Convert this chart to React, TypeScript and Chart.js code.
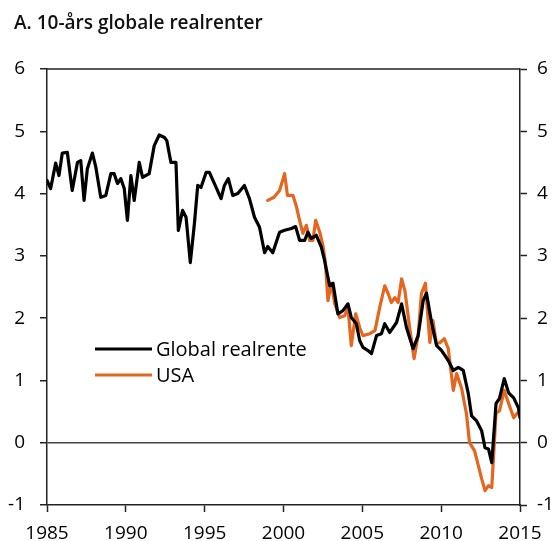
import React, { useEffect, useRef } from "react";
import { Chart, registerables } from "chart.js";
Chart.register(...registerables);

const TITLE = "A. 10-års globale realrenter";
const seriesLabels = ["Global realrente", "USA"];

const globalYears = [
  1985.0, 1985.23, 1985.55, 1985.76, 1985.97, 1986.29, 1986.6, 1986.93, 1987.14, 1987.35,
  1987.56, 1987.88, 1988.1, 1988.41, 1988.73, 1989.05, 1989.26, 1989.47, 1989.68, 1989.9,
  1990.1, 1990.32, 1990.53, 1990.85, 1991.06, 1991.48, 1991.8, 1992.12, 1992.45, 1992.6,
  1992.86, 1993.18, 1993.33, 1993.6, 1993.82, 1994.09, 1994.35, 1994.56, 1994.77, 1995.09,
  1995.3, 1995.62, 1996.04, 1996.25, 1996.5, 1996.78, 1997.1, 1997.52, 1997.84, 1998.16,
  1998.48, 1998.8, 1999.0, 1999.32, 1999.75, 2000.07, 2000.5, 2000.77, 2001.02, 2001.34,
  2001.55, 2001.76, 2002.08, 2002.4, 2002.6, 2002.93, 2003.14, 2003.45, 2003.77, 2004.09,
  2004.3, 2004.62, 2004.83, 2005.04, 2005.36, 2005.58, 2005.9, 2006.21, 2006.42, 2006.74,
  2007.17, 2007.49, 2007.8, 2008.22, 2008.54, 2008.86, 2009.07, 2009.39, 2009.71, 2010.03,
  2010.45, 2010.77, 2011.09, 2011.4, 2011.72, 2011.93, 2012.25, 2012.57, 2012.78, 2013.0,
  2013.21, 2013.48, 2013.7, 2014.0, 2014.28, 2014.6, 2014.9, 2015.0,
];
const globalValues = [
  4.21, 4.08, 4.49, 4.29, 4.65, 4.66, 4.05, 4.5, 4.53, 3.89,
  4.4, 4.65, 4.42, 3.94, 3.97, 4.32, 4.32, 4.16, 4.24, 4.08,
  3.57, 4.29, 3.89, 4.5, 4.26, 4.32, 4.77, 4.94, 4.9, 4.85,
  4.5, 4.5, 3.41, 3.73, 3.62, 2.89, 3.52, 4.13, 4.1, 4.34,
  4.34, 4.16, 3.92, 4.13, 4.24, 3.97, 4.0, 4.13, 3.92, 3.62,
  3.46, 3.05, 3.15, 3.05, 3.38, 3.41, 3.44, 3.47, 3.25, 3.25,
  3.38, 3.28, 3.33, 3.14, 2.93, 2.52, 2.56, 2.07, 2.12, 2.23,
  2.01, 1.91, 1.64, 1.53, 1.48, 1.43, 1.72, 1.75, 1.91, 1.77,
  1.93, 2.23, 1.85, 1.51, 1.72, 2.28, 2.4, 1.93, 1.56, 1.48,
  1.32, 1.16, 1.21, 1.16, 0.79, 0.43, 0.35, 0.19, -0.08, -0.1,
  -0.32, 0.63, 0.71, 1.03, 0.8, 0.72, 0.56, 0.4,
];

const usaYears = [
  1999.0, 1999.4, 1999.75, 2000.07, 2000.25, 2000.6, 2000.8, 2001.02, 2001.23, 2001.45,
  2001.66, 2001.87, 2002.04, 2002.3, 2002.5, 2002.66, 2002.82, 2003.03, 2003.25, 2003.56,
  2003.88, 2004.09, 2004.3, 2004.58, 2004.83, 2005.04, 2005.47, 2005.8, 2006.1, 2006.42,
  2006.63, 2006.84, 2007.06, 2007.27, 2007.49, 2007.7, 2008.0, 2008.28, 2008.54, 2008.75,
  2009.0, 2009.28, 2009.48, 2009.7, 2009.95, 2010.2, 2010.45, 2010.77, 2010.98, 2011.3,
  2011.6, 2011.8, 2012.12, 2012.33, 2012.57, 2012.78, 2013.0, 2013.21, 2013.48, 2013.7,
  2014.0, 2014.28, 2014.6, 2014.85, 2015.0,
];
const usaValues = [
  3.89, 3.94, 4.05, 4.32, 3.97, 3.97, 3.81, 3.57, 3.36, 3.49,
  3.25, 3.25, 3.57, 3.38, 3.17, 2.88, 2.28, 2.56, 2.23, 2.01,
  2.04, 2.17, 1.56, 2.07, 1.85, 1.72, 1.75, 1.8, 2.17, 2.52,
  2.4, 2.25, 2.33, 2.25, 2.63, 2.44, 1.85, 1.35, 1.72, 2.4,
  2.56, 1.61, 1.96, 1.59, 1.61, 1.67, 1.51, 0.84, 1.11, 0.87,
  0.47, 0.0, -0.13, -0.34, -0.58, -0.77, -0.69, -0.72, 0.48, 0.51,
  0.84, 0.63, 0.4, 0.48, 0.47,
];

const X_MIN = 1985;
const X_MAX = 2015;
const X_STEP = 5;
const Y_MIN = -1;
const Y_MAX = 6;
const Y_STEP = 1;

const COLORS = ["#000000", "#E4661F"];
const FONT = "'Open Sans', 'DejaVu Sans', sans-serif";
const W = 555;
const H = 541;

export default function App() {
  const ref = useRef<HTMLCanvasElement>(null);

  useEffect(() => {
    const canvas = ref.current;
    if (!canvas) return;

    const chrome = {
      id: "chrome",
      afterDraw(chart: any) {
        const { ctx, chartArea: a } = chart;
        ctx.save();
        ctx.strokeStyle = "#222";
        ctx.lineWidth = 1.5;
        ctx.beginPath();
        ctx.moveTo(a.left, a.top);
        ctx.lineTo(a.right, a.top);
        ctx.stroke();

        ctx.fillStyle = "#111";
        ctx.font = `600 19px ${FONT}`;
        ctx.textBaseline = "alphabetic";
        ctx.textAlign = "left";
        ctx.fillText(TITLE, 14, 29);

        ctx.font = `500 20px ${FONT}`;
        ctx.textBaseline = "middle";
        seriesLabels.forEach((lab, i) => {
          const y = a.top + 280 + i * 26;
          const x0 = a.left + 48;
          ctx.strokeStyle = COLORS[i];
          ctx.lineWidth = 3.2;
          ctx.beginPath();
          ctx.moveTo(x0, y);
          ctx.lineTo(x0 + 57, y);
          ctx.stroke();
          ctx.fillStyle = "#000";
          ctx.fillText(lab, x0 + 61, y + 1);
        });
        ctx.restore();
      },
    };

    const tickFont = { size: 19, family: FONT, weight: 500 };

    const chart = new Chart(canvas, {
      type: "line",
      data: {
        datasets: [
          {
            label: seriesLabels[0],
            data: globalYears.map((x, i) => ({ x, y: globalValues[i] })),
            borderColor: COLORS[0],
            borderWidth: 3.2,
            borderJoinStyle: "round",
            borderCapStyle: "round",
            pointRadius: 0,
            tension: 0,
            yAxisID: "y",
          },
          {
            label: seriesLabels[1],
            data: usaYears.map((x, i) => ({ x, y: usaValues[i] })),
            borderColor: COLORS[1],
            borderWidth: 3.2,
            borderJoinStyle: "round",
            borderCapStyle: "round",
            pointRadius: 0,
            tension: 0,
            yAxisID: "y",
          },
        ],
      },
      options: {
        responsive: false,
        animation: false,
        layout: { padding: { top: 69, left: 0, right: 0, bottom: 0 } },
        plugins: {
          legend: { display: false },
          title: { display: false },
          tooltip: { enabled: false },
        },
        scales: {
          x: {
            type: "linear",
            min: X_MIN,
            max: X_MAX,
            ticks: {
              stepSize: X_STEP,
              callback: (v: any) => String(v),
              color: "#000",
              font: tickFont,
              padding: 10,
              maxRotation: 0,
              autoSkip: false,
            },
            grid: { drawOnChartArea: false, tickLength: 7, tickColor: "#222", tickWidth: 1.5 },
            border: { color: "#222", width: 1.5 },
            afterFit: (s: any) => {
              s.height = 36;
            },
          },
          y: {
            position: "left",
            min: Y_MIN,
            max: Y_MAX,
            ticks: { stepSize: Y_STEP, color: "#000", font: tickFont, padding: 15 },
            grid: {
              drawOnChartArea: true,
              color: (c: any) => (c.tick && c.tick.value === 0 ? "#444" : "rgba(0,0,0,0)"),
              lineWidth: 1.5,
              tickLength: 7,
              tickColor: "#222",
              tickWidth: 1.5,
            },
            border: { color: "#222", width: 1.5 },
            afterFit: (s: any) => {
              s.width = 47;
            },
          },
          y2: {
            position: "right",
            min: Y_MIN,
            max: Y_MAX,
            ticks: { stepSize: Y_STEP, color: "#000", font: tickFont, padding: 10 },
            grid: { drawOnChartArea: false, tickLength: 7, tickColor: "#222", tickWidth: 1.5 },
            border: { color: "#222", width: 1.5 },
            afterFit: (s: any) => {
              s.width = 35;
            },
          },
        },
      },
      plugins: [chrome],
    } as any);

    return () => chart.destroy();
  }, []);

  return (
    <div style={{ position: "absolute", left: 0, top: 0, width: W, height: H }}>
      <canvas ref={ref} width={W} height={H} style={{ display: "block" }} />
    </div>
  );
}
